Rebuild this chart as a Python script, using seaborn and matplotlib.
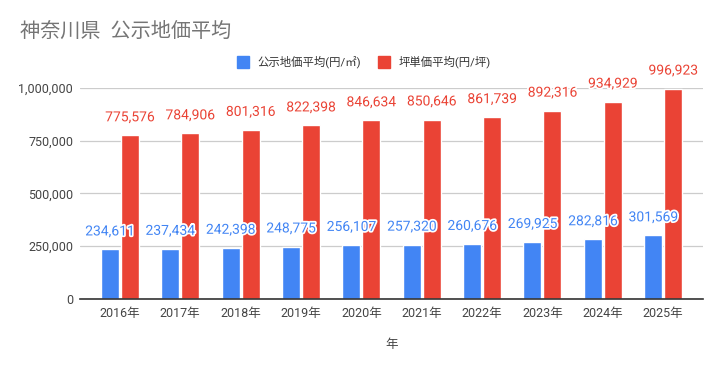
import pandas as pd
import matplotlib.pyplot as plt
import matplotlib.patheffects as pe
from matplotlib.ticker import FuncFormatter
from matplotlib.lines import Line2D
import seaborn as sns

# data
years = ['2016年', '2017年', '2018年', '2019年', '2020年',
         '2021年', '2022年', '2023年', '2024年', '2025年']
price_sqm = [234611, 237434, 242398, 248775, 256107,
             257320, 260676, 269925, 282816, 301569]
price_tsubo = [775576, 784906, 801316, 822398, 846634,
               850646, 861739, 892316, 934929, 996923]
series_names = ['公示地価平均(円/㎡)', '坪単価平均(円/坪)']

blue = '#4285F4'
red = '#EA4335'

df = pd.DataFrame({
    '年': years * 2,
    'value': price_sqm + price_tsubo,
    'series': [series_names[0]] * len(years) + [series_names[1]] * len(years),
})

sns.set_style('white')
plt.rcParams['font.family'] = ['Roboto', 'Noto Sans CJK JP', 'DejaVu Sans']

fig = plt.figure(figsize=(7.22, 3.71), dpi=100)
ax = fig.add_axes([80 / 722, 1 - 299 / 371, 623 / 722, 211 / 371])

sns.barplot(data=df, x='年', y='value', hue='series', hue_order=series_names,
            palette=[blue, red], saturation=1, width=0.66, gap=0.1,
            legend=False, ax=ax)

ax.set_ylim(0, 1000000)
ax.set_xlim(-0.66, 9.66)
ax.set_yticks([0, 250000, 500000, 750000, 1000000])
ax.yaxis.set_major_formatter(FuncFormatter(lambda v, p: f'{int(v):,}'))
ax.grid(axis='y', color='#cccccc', linewidth=0.9)
ax.set_axisbelow(True)
for s in ['top', 'right', 'left']:
    ax.spines[s].set_visible(False)
ax.spines['bottom'].set_color('#333333')
ax.spines['bottom'].set_linewidth(1.2)
ax.tick_params(axis='both', length=0, labelsize=9, colors='#444444')
ax.tick_params(axis='y', pad=5)
ax.tick_params(axis='x', pad=6)
ax.set_ylabel('')
ax.set_xlabel('年', fontsize=9, color='#444444', labelpad=13)

# value labels above bars
for container, color in zip(ax.containers, [blue, red]):
    for bar in container:
        h = bar.get_height()
        t = ax.annotate(f'{int(round(h)):,}', (bar.get_x() + bar.get_width() / 2, h),
                        xytext=(0, 13), textcoords='offset points',
                        ha='center', va='center', fontsize=10, color=color)
        t.set_path_effects([pe.withStroke(linewidth=2.5, foreground='white')])

handles = [Line2D([], [], marker='s', linestyle='', markersize=9,
                  markerfacecolor=c, markeredgecolor=c) for c in [blue, red]]
fig.legend(handles, series_names, loc='center', bbox_to_anchor=(0.5, 1 - 62 / 371),
           ncol=2, frameon=False, fontsize=8.2, handletextpad=0.3, columnspacing=1.0,
           labelcolor='#333333')

fig.text(20 / 722, 1 - 31 / 371, '神奈川県  公示地価平均', fontsize=14.5,
         color='#757575', va='center', ha='left')

plt.savefig('out.png', dpi=100)
